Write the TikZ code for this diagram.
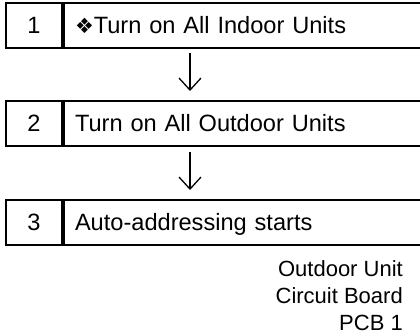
\documentclass[tikz,border=0pt]{standalone}
\usepackage{fontspec}
\setmainfont{Liberation Sans}
\newfontfamily\symfont{DejaVu Sans}
\usetikzlibrary{arrows.meta}
\begin{document}
\begin{tikzpicture}[x=1bp,y=-1bp,
  cell/.style={draw, line width=2bp, minimum height=45bp, inner sep=0pt,
    text height=16.8bp, text depth=0bp, font=\fontsize{23.6bp}{28bp}\selectfont},
  numcell/.style={cell, minimum width=56bp, anchor=east},
  txtcell/.style={cell, anchor=west, text width=350bp, inner xsep=11bp, align=left},
  flow/.style={line width=1.3bp, -{Straight Barb[length=12bp,width=22bp,line width=1.3bp]}},
  note/.style={align=right, anchor=north east, inner sep=0pt, font=\fontsize{22bp}{27bp}\selectfont}
]
\useasboundingbox (0,0) rectangle (420,336);
\node[numcell] (n1) at (63,25.5) {1};
\node[txtcell] (t1) at (63,25.5) {{\symfont\fontsize{21bp}{21bp}\selectfont ❖}Turn on All Indoor Units};
\node[numcell] (n2) at (63,123.5) {2};
\node[txtcell] (t2) at (63,123.5) {Turn on All Outdoor Units};
\node[numcell] (n3) at (63,222.5) {3};
\node[txtcell] (t3) at (63,222.5) {Auto-addressing starts};
\coordinate (a1s) at (190,53);
\coordinate (a1e) at (190,91);
\coordinate (a2s) at (190,152);
\coordinate (a2e) at (190,190);
\draw[flow] (a1s) -- (a1e);
\draw[flow] (a2s) -- (a2e);
\node[note] (pcb) at (403,260) {Outdoor Unit\\Circuit Board\\PCB 1};
\end{tikzpicture}
\end{document}
